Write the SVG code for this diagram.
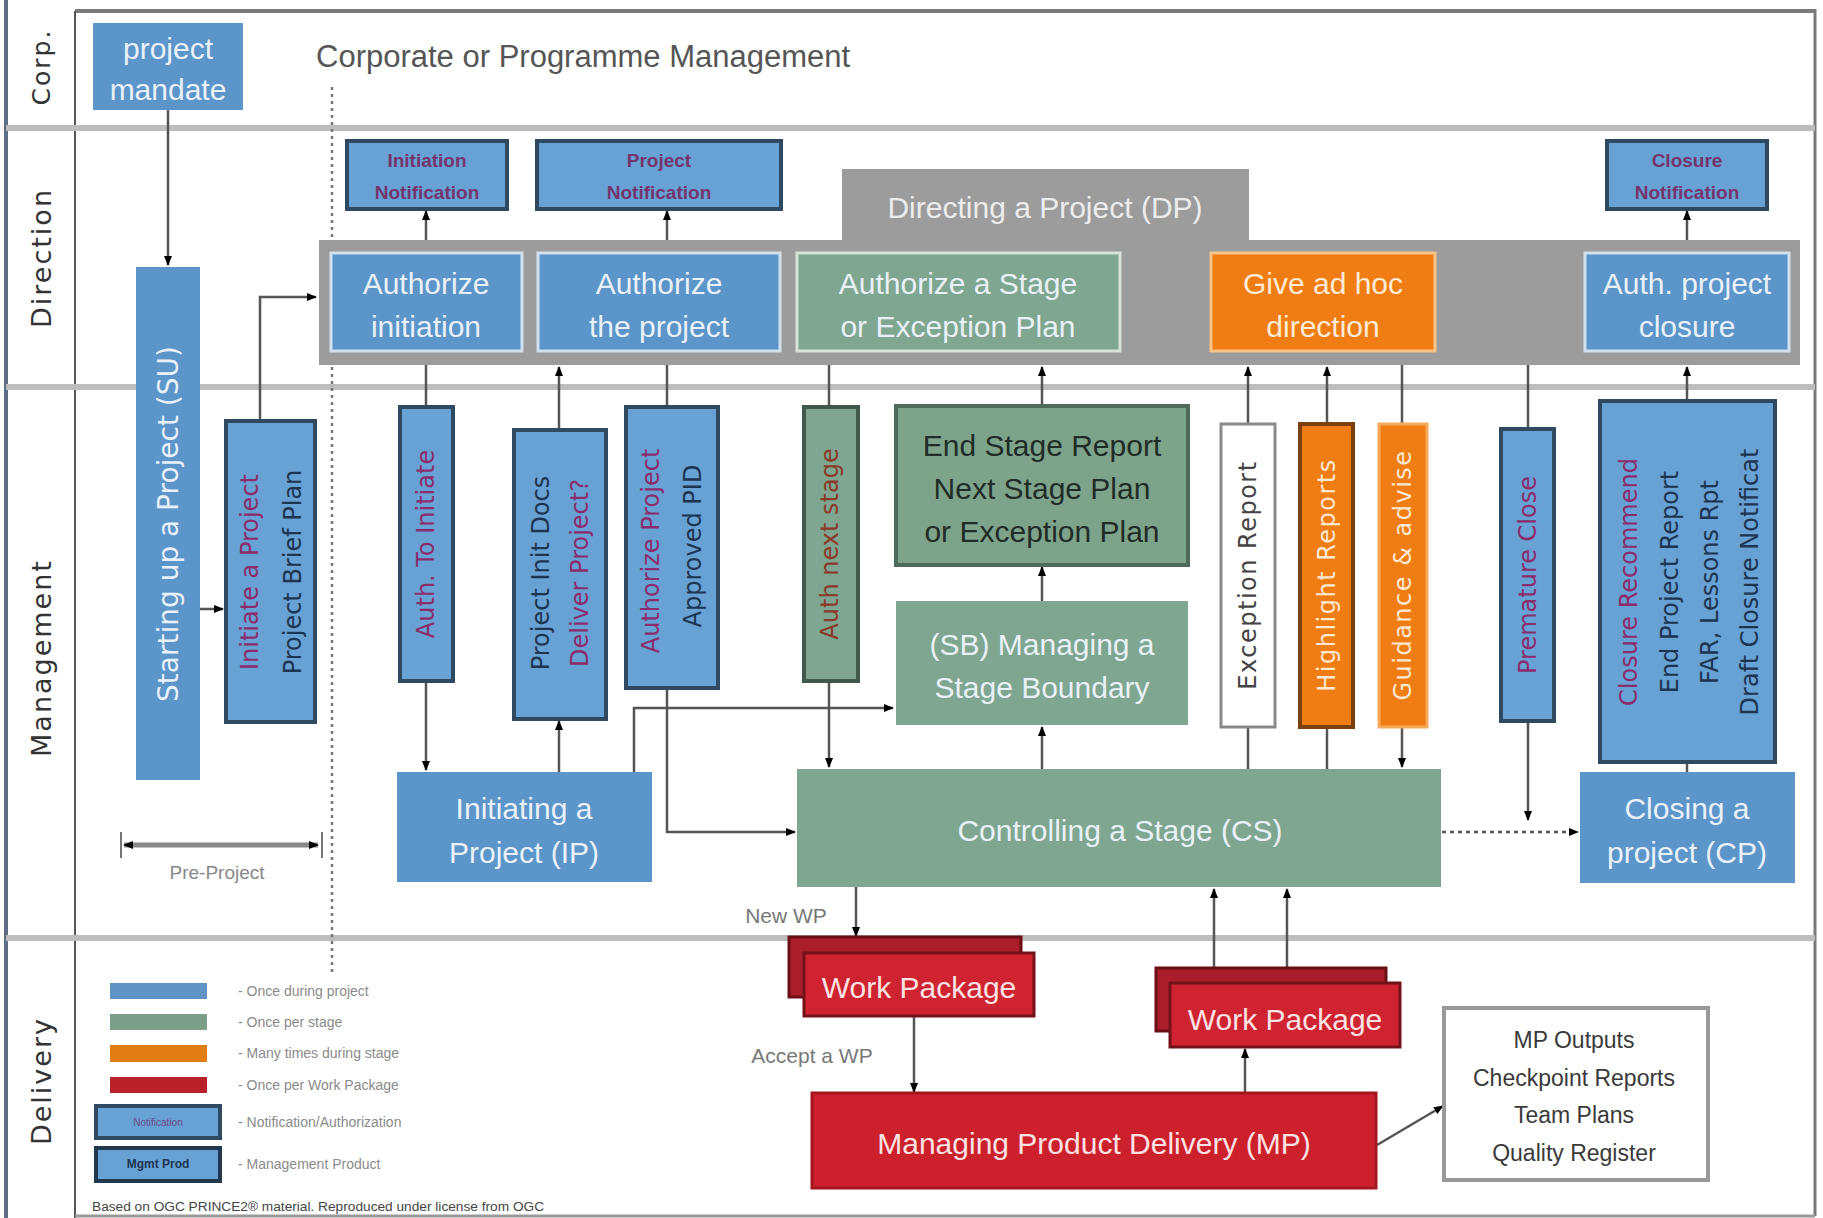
<svg xmlns="http://www.w3.org/2000/svg" width="1823" height="1218" viewBox="0 0 1823 1218">
<style>
text{font-family:"Liberation Sans",Arial,sans-serif}
.p{font-size:30px;fill:#e9f1f8;text-anchor:middle;dominant-baseline:central}
.pd{font-size:30px;fill:#1f2d26;text-anchor:middle;dominant-baseline:central}
.v{font-family:"DejaVu Sans",sans-serif;font-size:24px;text-anchor:middle;dominant-baseline:central}
.lab{font-family:"DejaVu Sans",sans-serif;font-size:27px;fill:#333;text-anchor:middle;dominant-baseline:central;letter-spacing:2px}
.nt{font-size:19px;font-weight:bold;fill:#74356f;text-anchor:middle;dominant-baseline:central}
.blue{fill:#5c95c9}
.ibox{stroke:#d2e1ee;stroke-width:3}
.doc{fill:#68a1d3;stroke:#2f4a60;stroke-width:4}
.green{fill:#7ea690}
.pur{fill:#8a2d6e}
.navy{fill:#1c3552}
.lane{stroke:#bdbdbd;stroke-width:6}
.c{fill:none;stroke:#555;stroke-width:2.5}
.a{marker-end:url(#ah)}
.lg{font-size:14px;fill:#8a8a8a;dominant-baseline:central}
.wpb{fill:#a91e2a;stroke:#6b0f16;stroke-width:3}
.wpf{fill:#cf2331;stroke:#731219;stroke-width:3}
.wt{font-size:30px;fill:#fbe2e2;text-anchor:middle;dominant-baseline:central}
.mo{font-size:23px;fill:#3a3a3a;text-anchor:middle;dominant-baseline:central}
.gl{font-size:21px;fill:#777;text-anchor:middle;dominant-baseline:central}
</style>
<defs>
<marker id="ah" viewBox="0 0 10 10" refX="9" refY="5" markerWidth="10" markerHeight="10" markerUnits="userSpaceOnUse" orient="auto-start-reverse"><path d="M0,1L10,5L0,9z" fill="#000"/></marker>
</defs>
<rect width="1823" height="1218" fill="#fff"/>
<g id="lanes">
<line x1="75" y1="11" x2="1815" y2="11" stroke="#7a7a7a" stroke-width="4"/>
<line x1="6" y1="0" x2="6" y2="1218" stroke="#5d6e85" stroke-width="4"/>
<line x1="75" y1="11" x2="75" y2="1218" stroke="#555" stroke-width="2"/>
<line x1="1815" y1="9" x2="1815" y2="1216" stroke="#7a7a7a" stroke-width="3"/>
<line x1="75" y1="1216" x2="1815" y2="1216" stroke="#999" stroke-width="3"/>
<line class="lane" x1="6" y1="128" x2="1815" y2="128"/>
<line class="lane" x1="6" y1="387" x2="1815" y2="387"/>
<line class="lane" x1="6" y1="938" x2="1815" y2="938"/>
<line x1="332" y1="87" x2="332" y2="972" stroke="#777" stroke-width="2.5" stroke-dasharray="3 4"/>
<text class="lab" transform="translate(41,67) rotate(-90)" style="font-size:25px">Corp.</text>
<text class="lab" transform="translate(41,258) rotate(-90)">Direction</text>
<text class="lab" transform="translate(41,658) rotate(-90)">Management</text>
<text class="lab" transform="translate(41,1081) rotate(-90)">Delivery</text>
<text x="316" y="56" font-size="31" fill="#555" dominant-baseline="central">Corporate or Programme Management</text>
</g>
<g id="connectors">
<path class="c a" d="M168,110V265"/>
<path class="c a" d="M200,609H223"/>
<path class="c a" d="M260,421V297H316"/>
<path class="c a" d="M426,241V211"/>
<path class="c a" d="M667,241V211"/>
<path class="c a" d="M1687,241V211"/>
<path class="c" d="M426,365V407"/>
<path class="c a" d="M426,681V770"/>
<path class="c a" d="M559,772V721"/>
<path class="c a" d="M559,430V367"/>
<path class="c" d="M667,365V407"/>
<path class="c a" d="M667,688V832H795"/>
<path class="c a" d="M634,772V708H893"/>
<path class="c" d="M829,365V407"/>
<path class="c a" d="M829,681V767"/>
<path class="c a" d="M1042,769V727"/>
<path class="c a" d="M1042,601V567"/>
<path class="c a" d="M1042,406V367"/>
<path class="c" d="M1248,769V727"/>
<path class="c a" d="M1248,424V367"/>
<path class="c" d="M1327,769V727"/>
<path class="c a" d="M1327,424V367"/>
<path class="c" d="M1402,365V424"/>
<path class="c a" d="M1402,727V767"/>
<path class="c" d="M1528,365V429"/>
<path class="c a" d="M1528,721V820"/>
<path class="c a" d="M1442,832H1578" stroke-dasharray="4 4"/>
<path class="c" d="M1687,772V762"/>
<path class="c a" d="M1687,401V367"/>
<path class="c a" d="M856,887V936"/>
<path class="c a" d="M914,1017V1092"/>
<path class="c a" d="M1245,1093V1049"/>
<path class="c a" d="M1214,968V889"/>
<path class="c a" d="M1287,968V889"/>
<path class="c a" d="M1377,1145L1443,1106"/>
<path d="M124,845H318" fill="none" stroke="#888" stroke-width="5" marker-start="url(#ah)" marker-end="url(#ah)"/>
<path d="M121,832V858M322,832V858" stroke="#777" stroke-width="2"/>
</g>
<g id="project-mandate"><rect class="blue" x="93" y="23" width="150" height="87"/><text class="p" x="168" y="48">project</text><text class="p" x="168" y="89">mandate</text></g>
<g id="initiation-notification"><rect class="doc" x="347" y="141" width="160" height="68"/><text class="nt" x="427" y="160">Initiation</text><text class="nt" x="427" y="192">Notification</text></g>
<g id="project-notification"><rect class="doc" x="537" y="141" width="244" height="68"/><text class="nt" x="659" y="160">Project</text><text class="nt" x="659" y="192">Notification</text></g>
<g id="closure-notification"><rect class="doc" x="1607" y="141" width="160" height="68"/><text class="nt" x="1687" y="160">Closure</text><text class="nt" x="1687" y="192">Notification</text></g>
<g id="dp"><path d="M319,240H842V169H1249V240H1800V365H319Z" fill="#9c9c9c"/><text x="1045" y="207" font-size="30" fill="#ececec" text-anchor="middle" dominant-baseline="central">Directing a Project (DP)</text></g>
<g id="authorize-initiation"><rect class="blue ibox" x="331" y="253" width="191" height="98"/><text class="p" x="426" y="283">Authorize</text><text class="p" x="426" y="326">initiation</text></g>
<g id="authorize-project"><rect class="blue ibox" x="538" y="253" width="242" height="98"/><text class="p" x="659" y="283">Authorize</text><text class="p" x="659" y="326">the project</text></g>
<g id="authorize-stage"><rect class="green" x="797" y="253" width="323" height="98" stroke="#d5e3d9" stroke-width="3"/><text class="p" x="958" y="283">Authorize a Stage</text><text class="p" x="958" y="326">or Exception Plan</text></g>
<g id="adhoc-direction"><rect x="1211" y="253" width="224" height="98" fill="#ef7d14" stroke="#f8c48a" stroke-width="3"/><text class="p" x="1323" y="283" style="fill:#fdebd6">Give ad hoc</text><text class="p" x="1323" y="326" style="fill:#fdebd6">direction</text></g>
<g id="auth-closure"><rect class="blue ibox" x="1585" y="253" width="204" height="98"/><text class="p" x="1687" y="283">Auth. project</text><text class="p" x="1687" y="326">closure</text></g>
<g id="su"><rect class="blue" x="136" y="267" width="64" height="513"/><text class="v" transform="translate(168,524) rotate(-90)" fill="#e8f1f9" style="font-size:28px">Starting up a Project (SU)</text></g>
<g id="initiate-project"><rect class="doc" x="226" y="421" width="89" height="301"/><text class="v pur" transform="translate(250,572) rotate(-90)">Initiate a Project</text><text class="v navy" transform="translate(293,572) rotate(-90)">Project Brief Plan</text></g>
<g id="auth-to-initiate"><rect class="doc" x="400" y="407" width="53" height="274"/><text class="v pur" transform="translate(426,544) rotate(-90)">Auth. To Initiate</text></g>
<g id="project-init-docs"><rect class="doc" x="514" y="430" width="92" height="289"/><text class="v navy" transform="translate(541,573) rotate(-90)">Project Init Docs</text><text class="v pur" transform="translate(580,573) rotate(-90)">Deliver Project?</text></g>
<g id="authorize-project-doc"><rect class="doc" x="626" y="407" width="92" height="281"/><text class="v pur" transform="translate(651,551) rotate(-90)">Authorize Project</text><text class="v navy" transform="translate(693,546) rotate(-90)">Approved PID</text></g>
<g id="auth-next-stage"><rect x="804" y="407" width="54" height="274" fill="#7ea690" stroke="#3f5a4c" stroke-width="4"/><text class="v" transform="translate(830,544) rotate(-90)" fill="#8a3a2a">Auth next stage</text></g>
<g id="end-stage-report"><rect x="896" y="406" width="292" height="159" fill="#7ea38b" stroke="#4e6a5a" stroke-width="4"/><text class="pd" x="1042" y="445">End Stage Report</text><text class="pd" x="1042" y="488">Next Stage Plan</text><text class="pd" x="1042" y="531">or Exception Plan</text></g>
<g id="sb"><rect class="green" x="896" y="601" width="292" height="124"/><text class="p" x="1042" y="644">(SB) Managing a</text><text class="p" x="1042" y="687">Stage Boundary</text></g>
<g id="exception-report"><rect x="1221" y="424" width="54" height="303" fill="#fff" stroke="#8a8a8a" stroke-width="3"/><text class="v" transform="translate(1248,575) rotate(-90)" fill="#444" letter-spacing="1.5">Exception Report</text></g>
<g id="highlight-reports"><rect x="1300" y="424" width="53" height="303" fill="#ef7d14" stroke="#7a4010" stroke-width="4"/><text class="v" transform="translate(1327,575) rotate(-90)" fill="#fde8d0" letter-spacing="1.5">Highlight Reports</text></g>
<g id="guidance"><rect x="1379" y="424" width="48" height="303" fill="#ef7d14" stroke="#f7aa5a" stroke-width="3"/><text class="v" transform="translate(1403,575) rotate(-90)" fill="#fde8d0" letter-spacing="1.5">Guidance &amp; advise</text></g>
<g id="premature-close"><rect class="doc" x="1501" y="429" width="53" height="292"/><text class="v pur" transform="translate(1528,575) rotate(-90)">Premature Close</text></g>
<g id="closure-docs"><rect class="doc" x="1600" y="401" width="175" height="361"/><text class="v pur" transform="translate(1629,582) rotate(-90)">Closure Recommend</text><text class="v navy" transform="translate(1670,582) rotate(-90)">End Project Report</text><text class="v navy" transform="translate(1710,582) rotate(-90)">FAR, Lessons Rpt</text><text class="v navy" transform="translate(1750,582) rotate(-90)">Draft Closure Notificat</text></g>
<g id="ip"><rect class="blue" x="397" y="772" width="255" height="110"/><text class="p" x="524" y="808">Initiating a</text><text class="p" x="524" y="852">Project (IP)</text></g>
<g id="cs"><rect class="green" x="797" y="769" width="644" height="118"/><text class="p" x="1120" y="830">Controlling a Stage (CS)</text></g>
<g id="cp"><rect class="blue" x="1580" y="772" width="215" height="111"/><text class="p" x="1687" y="808">Closing a</text><text class="p" x="1687" y="852">project (CP)</text></g>
<g id="pre-project"><text class="gl" x="217" y="872" style="font-size:19px;fill:#888">Pre-Project</text></g>
<g id="new-wp"><text class="gl" x="786" y="915">New WP</text></g>
<g id="accept-wp"><text class="gl" x="812" y="1055">Accept a WP</text></g>
<g id="work-package-1"><rect class="wpb" x="789" y="937" width="232" height="60"/><rect class="wpf" x="804" y="953" width="230" height="63"/><text class="wt" x="919" y="987">Work Package</text></g>
<g id="work-package-2"><rect class="wpb" x="1156" y="968" width="230" height="63"/><rect class="wpf" x="1170" y="983" width="230" height="64"/><text class="wt" x="1285" y="1019">Work Package</text></g>
<g id="mp"><rect x="812" y="1093" width="564" height="95" fill="#cd202d" stroke="#a5161f" stroke-width="3"/><text class="wt" x="1094" y="1143">Managing Product Delivery (MP)</text></g>
<g id="mp-outputs"><rect x="1444" y="1008" width="264" height="172" fill="#fff" stroke="#999" stroke-width="4"/><text class="mo" x="1574" y="1040">MP Outputs</text><text class="mo" x="1574" y="1078">Checkpoint Reports</text><text class="mo" x="1574" y="1115">Team Plans</text><text class="mo" x="1574" y="1153">Quality Register</text></g>
<g id="legend">
<rect x="110" y="983" width="97" height="16" fill="#5f93c4"/>
<rect x="110" y="1014" width="97" height="16" fill="#7a9e88"/>
<rect x="110" y="1045" width="97" height="17" fill="#e07e14"/>
<rect x="110" y="1077" width="97" height="16" fill="#b8202a"/>
<rect class="doc" x="96" y="1106" width="124" height="32"/>
<text x="158" y="1122" font-size="10" fill="#6b4a8a" text-anchor="middle" dominant-baseline="central">Notification</text>
<rect class="doc" x="96" y="1148" width="124" height="33" style="stroke:#22384e"/>
<text x="158" y="1164" font-size="12" font-weight="bold" fill="#1c3552" text-anchor="middle" dominant-baseline="central">Mgmt Prod</text>
<text class="lg" x="238" y="991">- Once during project</text>
<text class="lg" x="238" y="1022">- Once per stage</text>
<text class="lg" x="238" y="1053">- Many times during stage</text>
<text class="lg" x="238" y="1085">- Once per Work Package</text>
<text class="lg" x="238" y="1122">- Notification/Authorization</text>
<text class="lg" x="238" y="1164">- Management Product</text>
<text x="92" y="1206" font-size="13.7" fill="#444" dominant-baseline="central">Based on OGC PRINCE2® material. Reproduced under license from OGC</text>
</g>
</svg>
